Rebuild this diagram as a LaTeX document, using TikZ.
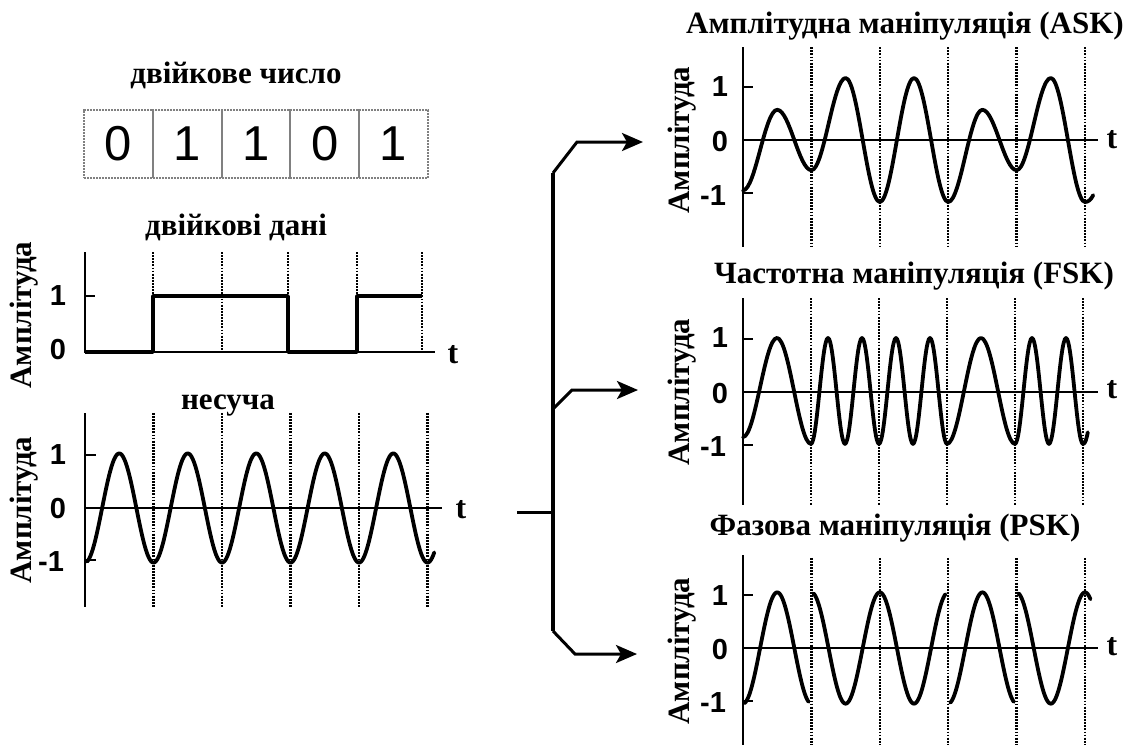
\documentclass[tikz,border=0pt]{standalone}
\usepackage{fontspec}
\setmainfont{Liberation Serif}
\newfontfamily\arialf{Liberation Sans}
\usetikzlibrary{arrows.meta}
\begin{document}
\begin{tikzpicture}[x=1pt,y=-1pt,
  axisline/.style={line width=2.8pt},
  zeroline/.style={line width=2.2pt},
  wave/.style={line width=3.8pt,line join=round,line cap=round},
  gridline/.style={line width=2.4pt,dash pattern=on 1.8pt off 1.3pt},
  ttl/.style={font=\fontsize{31}{34}\selectfont\bfseries,inner sep=0pt,anchor=base},
  ylab/.style={font=\fontsize{31}{34}\selectfont\bfseries,rotate=90,inner sep=0pt},
  ticklab/.style={font=\arialf\bfseries\fontsize{29}{30}\selectfont,inner sep=0pt},
  tlab/.style={font=\fontsize{32}{34}\selectfont\bfseries,inner sep=0pt},
  cellbox/.style={draw=black!50,line width=2pt,densely dotted,minimum width=68.8pt,minimum height=68pt,inner sep=0pt,font=\arialf\fontsize{49}{52}\selectfont},
  conn/.style={line width=3pt},
  arr/.style={-{Stealth[length=21pt,width=18pt,inset=5pt]}}
]
\useasboundingbox[fill=white] (0,0) rectangle (1127,745);

% ---------- binary number ----------
\node[ttl] (tnum) at (236,83) {двійкове число};
\node[cellbox] (c1) at (118.4,144) {0};
\node[cellbox] (c2) at (187.2,144) {1};
\node[cellbox] (c3) at (256.0,144) {1};
\node[cellbox] (c4) at (324.8,144) {0};
\node[cellbox] (c5) at (393.6,144) {1};

% ---------- binary data ----------
\node[ttl] (tdata) at (236,235) {двійкові дані};
\node[ylab] (ya) at (24,315) {Амплітуда};
\foreach \gx in {153,222,288,357,422} \draw[gridline] (\gx,252) -- (\gx,352);
\draw[axisline] (85,252) -- (85,353);
\draw[axisline] (84,352) -- (435,352);
\draw[axisline] (85,296) -- (95,296);
\draw[wave,line cap=butt] (85,352) -- (153,352) -- (153,296) -- (288,296) -- (288,352) -- (357,352) -- (357,296) -- (422,296);
\node[ticklab] (da1) at (58,296) {1};
\node[ticklab] (da0) at (58,350) {0};
\node[tlab] (dat) at (453,355) {t};

% ---------- carrier ----------
\node[ttl] (tcar) at (228,409) {несуча};
\node[ylab] (yb) at (24,510) {Амплітуда};
\draw[axisline] (85,413) -- (85,607);
\draw[zeroline] (85,508) -- (442,508);
\draw[axisline] (85,455) -- (96,455);
\draw[axisline] (85,560) -- (96,560);
\node[ticklab] (ca1) at (58,455) {1};
\node[ticklab] (ca0) at (58,509) {0};
\node[ticklab] (cam) at (51,562) {-1};
\node[tlab] (cat) at (461,510) {t};
\begin{scope}[shift={(85,508)},x=68.5pt,y=52pt]
  \foreach \gx in {1,...,5} \draw[gridline] (\gx,1.83) -- (\gx,-1.9);
  \draw[wave] plot[domain=0.03:5.1,samples=300] (\x,{-1.05*cos(360*\x)});
\end{scope}

% ---------- connector ----------
\coordinate (src) at (517,512);
\coordinate (jn) at (553,512);
\coordinate (vt) at (553,173);
\coordinate (vb) at (553,631);
\coordinate (vm) at (553,409);
\coordinate (kt) at (577,142);
\coordinate (km) at (572,390);
\coordinate (kb) at (575,654);
\coordinate (at) at (643,142);
\coordinate (am) at (638,390);
\coordinate (ab) at (637,654);
\draw[conn] (src) -- (jn);
\draw[conn,line width=3.4pt] (vt) -- (vb);
\draw[conn,arr] (vt) -- (kt) -- (at);
\draw[conn,arr] (vm) -- (km) -- (am);
\draw[conn,arr] (vb) -- (kb) -- (ab);

% ---------- ASK ----------
\node[ttl] (task) at (905,33) {Амплітудна маніпуляція (ASK)};
\node[ylab] (yc) at (682,140) {Амплітуда};
\draw[axisline] (743,47) -- (743,247);
\draw[zeroline] (743,140) -- (1098,140);
\draw[axisline] (743,87) -- (753,87);
\draw[axisline] (743,193) -- (753,193);
\node[ticklab] (aa1) at (720,87) {1};
\node[ticklab] (aa0) at (720,142) {0};
\node[ticklab] (aam) at (713,196) {-1};
\node[tlab] (aat) at (1112,140) {t};
\begin{scope}[shift={(743,140)},x=68.4pt,y=53pt]
  \foreach \gx in {1,...,5} \draw[gridline] (\gx,1.75) -- (\gx,-2.02);
  \draw[wave] (0,-0.95) foreach \xb/\ya/\yb in {0.5/-0.95/0.57, 1/0.57/-0.57, 1.5/-0.57/1.17, 2/1.17/-1.17, 2.5/-1.17/1.17, 3/1.17/-1.17, 3.5/-1.17/0.57, 4/0.57/-0.57, 4.5/-0.57/1.17, 5/1.17/-1.17}
    { .. controls ({\xb-0.318},\ya) and ({\xb-0.182},\yb) .. (\xb,\yb) }
    .. controls (5.05,-1.17) and (5.09,-1.12) .. (5.12,-1.04);
\end{scope}

% ---------- FSK ----------
\node[ttl] (tfsk) at (914,283) {Частотна маніпуляція (FSK)};
\node[ylab] (yd) at (682,392) {Амплітуда};
\draw[axisline] (743,298) -- (743,505);
\draw[zeroline] (743,392) -- (1098,392);
\draw[axisline] (743,339) -- (753,339);
\draw[axisline] (743,445) -- (753,445);
\node[ticklab] (fa1) at (720,338) {1};
\node[ticklab] (fa0) at (720,394) {0};
\node[ticklab] (fam) at (713,447) {-1};
\node[tlab] (fat) at (1112,390) {t};
\begin{scope}[shift={(743,392)},x=68pt,y=53pt]
  \foreach \gx in {1,...,5} \draw[gridline] (\gx,1.77) -- (\gx,-2.13);
  \draw[wave] (0,-0.85) foreach \xa/\ya/\xb/\yb in {0/-0.85/0.5/1.02, 0.5/1.02/1/-0.98, 1/-0.98/1.25/1.02, 1.25/1.02/1.5/-0.98, 1.5/-0.98/1.75/1.02, 1.75/1.02/2/-0.98, 2/-0.98/2.25/1.02, 2.25/1.02/2.5/-0.98, 2.5/-0.98/2.75/1.02, 2.75/1.02/3/-0.98, 3/-0.98/3.5/1.02, 3.5/1.02/4/-0.98, 4/-0.98/4.25/1.02, 4.25/1.02/4.5/-0.98, 4.5/-0.98/4.75/1.02, 4.75/1.02/5/-0.98}
    { .. controls ({\xa+0.364*(\xb-\xa)},\ya) and ({\xb-0.364*(\xb-\xa)},\yb) .. (\xb,\yb) }
    .. controls (5.03,-0.98) and (5.05,-0.9) .. (5.07,-0.76);
\end{scope}

% ---------- PSK ----------
\node[ttl] (tpsk) at (895,535) {Фазова маніпуляція (PSK)};
\node[ylab] (ye) at (682,651) {Амплітуда};
\draw[axisline] (743,555) -- (743,745);
\draw[zeroline] (743,648) -- (1098,648);
\draw[axisline] (743,595) -- (753,595);
\draw[axisline] (743,701) -- (753,701);
\node[ticklab] (pa1) at (720,596) {1};
\node[ticklab] (pa0) at (720,650) {0};
\node[ticklab] (pam) at (713,703) {-1};
\node[tlab] (pat) at (1112,647) {t};
\begin{scope}[shift={(743,648)},x=68.4pt,y=53pt]
  \foreach \gx in {1,...,5} \draw[gridline] (\gx,1.7) -- (\gx,-1.83);
  \draw[wave] plot[domain=0.02:0.96,samples=80] (\x,{-1.05*cos(360*\x)});
  \draw[wave] plot[domain=1.03:2.96,samples=160] (\x,{1.05*cos(360*\x)});
  \draw[wave] plot[domain=3.03:3.96,samples=80] (\x,{-1.05*cos(360*\x)});
  \draw[wave] plot[domain=4.03:5.08,samples=90] (\x,{1.05*cos(360*\x)});
\end{scope}
\end{tikzpicture}
\end{document}
